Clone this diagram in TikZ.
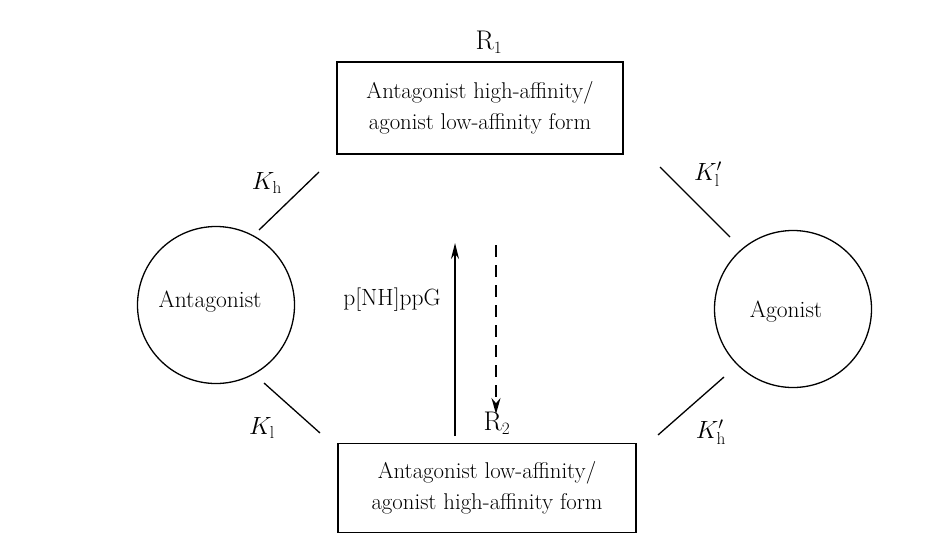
\documentclass[tikz,border=0pt]{standalone}
\usetikzlibrary{arrows.meta}
\begin{document}
\begin{tikzpicture}[x=1pt,y=-1pt,
  every node/.style={font=\fontsize{23.5}{31}\selectfont},
  box/.style={draw,line width=1.3pt,minimum width=286pt,minimum height=92pt,align=center,inner sep=0pt,font=\fontsize{22.8}{31}\selectfont},
  ring/.style={draw,circle,line width=1.3pt,minimum size=157pt,inner sep=0pt},
  link/.style={line width=1.3pt},
  lbl/.style={font=\fontsize{27}{30}\selectfont},
  klbl/.style={font=\fontsize{25}{28}\selectfont}]
\useasboundingbox (0,0) rectangle (936,546);
\node[box] (r1) at (480,108) {Antagonist high-affinity/\\agonist low-affinity form};
\node[box,minimum width=298pt,minimum height=89pt] (r2) at (487,488) {Antagonist low-affinity/\\agonist high-affinity form};
\node[lbl] (r1l) at (489,42) {R$_1$};
\node[lbl] (r2l) at (497,423) {R$_2$};
\node[ring] (ant) at (216,305) {};
\node (antt) at (210,302) {Antagonist};
\node[ring] (ago) at (793,309) {};
\node (agot) at (786,312) {Agonist};
\coordinate (a1) at (259,230); \coordinate (b1) at (319,172);
\coordinate (a2) at (264,383); \coordinate (b2) at (320,433);
\coordinate (a3) at (730,237); \coordinate (b3) at (660,167);
\coordinate (a4) at (724,377); \coordinate (b4) at (658,435);
\draw[link] (a1) -- (b1);
\draw[link] (a2) -- (b2);
\draw[link] (a3) -- (b3);
\draw[link] (a4) -- (b4);
\node[klbl] (kh) at (267,183) {$K_{\mathrm{h}}$};
\node[klbl] (kl) at (262,428) {$K_{\mathrm{l}}$};
\node[klbl] (klp) at (708,174) {$K'_{\mathrm{l}}$};
\node[klbl] (khp) at (711,432) {$K'_{\mathrm{h}}$};
\node (gpp) at (392,300) {p[NH]ppG};
\coordinate (s0) at (455,436); \coordinate (s1) at (455,243);
\coordinate (d0) at (496,245); \coordinate (d1) at (496,414);
\draw[line width=1.5pt,-{Stealth[length=16pt,width=8pt]}] (s0) -- (s1);
\draw[line width=1.4pt,dash pattern=on 12pt off 8pt,-{Stealth[length=16pt,width=9pt]}] (d0) -- (d1);
\end{tikzpicture}
\end{document}
